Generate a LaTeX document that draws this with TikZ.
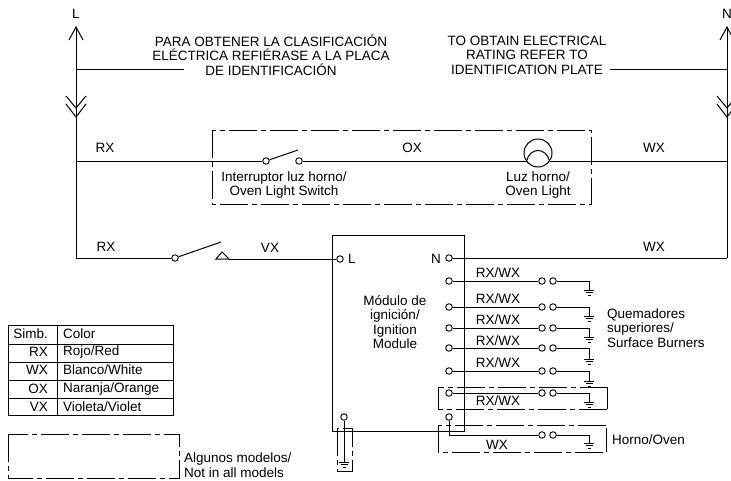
\documentclass[tikz,border=0pt]{standalone}
\usepackage{fontspec}
\setmainfont{Liberation Sans}
\usetikzlibrary{arrows}

\tikzstyle{wire} = [draw, line width=1pt]
\tikzstyle{optbox} = [draw, line width=0.9pt, dash pattern=on 28pt off 4pt on 5pt off 4pt]
\tikzstyle{term} = [circle, draw, line width=0.9pt, fill=white, inner sep=0pt, minimum size=6.5pt]
\tikzstyle{lbl} = [inner sep=0pt, font=\fontsize{13.5}{14.6}\selectfont, align=center]
\tikzstyle{lbll} = [inner sep=0pt, font=\fontsize{13.5}{14.8}\selectfont, align=left]

\begin{document}
\begin{tikzpicture}[x=1pt,y=-1pt]
\useasboundingbox (0,0) rectangle (731,480);

% supply lines
\coordinate (Ltop) at (76,27);
\coordinate (Lbot) at (76,258);
\coordinate (Ntop) at (727,27);
\coordinate (Nbot) at (727,258);
\node [lbl] (Ltxt) at (76,14) {L};
\node [lbl] (Ntxt) at (727,14) {N};
\draw [wire] (Ltop) -- (Lbot);
\draw [wire] (Ntop) -- (Nbot);
\draw [wire] (69,40) -- (Ltop) -- (83,40);
\draw [wire] (720,40) -- (Ntop) -- (734,40);
\draw [wire] (66,96) -- (76,108) -- (86,96);
\draw [wire] (66,104) -- (76,117) -- (86,104);
\draw [wire] (717,96) -- (727,108) -- (737,96);
\draw [wire] (717,104) -- (727,117) -- (737,104);

% rating notes
\node [lbl] (noteES) at (271,55) {PARA OBTENER LA CLASIFICACIÓN\\ELÉCTRICA REFIÉRASE A LA PLACA\\DE IDENTIFICACIÓN};
\node [lbl] (noteEN) at (527,55) {TO OBTAIN ELECTRICAL\\RATING REFER TO\\IDENTIFICATION PLATE};
\coordinate (Lnote) at (184,69);
\coordinate (Nnote) at (610,69);
\draw [wire] (76,69) -- (Lnote);
\draw [wire] (Nnote) -- (727,69);

% oven light
\draw [optbox] (212,130) rectangle (591,204);
\node [term] (sw1a) at (266,161) {};
\node [term] (sw1b) at (299,161) {};
\node [circle, draw, line width=1pt, inner sep=0pt, minimum size=28pt] (lamp) at (538,153) {};
\coordinate (lampL) at (526.5,161);
\coordinate (lampR) at (549.5,161);
\draw [wire] (76,161) -- (sw1a);
\draw [wire] (sw1a) -- (298,150);
\draw [wire] (sw1b) -- (lampL);
\draw [wire] (lampR) -- (727,161);
\draw [wire] (lampL) .. controls (530,147) and (546,147) .. (lampR);
\node [lbl] (rx1) at (105,148) {RX};
\node [lbl] (ox1) at (412,148) {OX};
\node [lbl] (wx1) at (654,148) {WX};
\node [lbl] (swtxt) at (284,185) {Interruptor luz horno/\\Oven Light Switch};
\node [lbl] (lamptxt) at (538,185) {Luz horno/\\Oven Light};

% limit switch and module
\node [term] (sw2a) at (175,258) {};
\coordinate (tri) at (229,259);
\draw [wire] (Lbot) -- (sw2a);
\draw [wire] (sw2a) -- (221,242);
\draw [wire] (216,259) -- (222,252) -- (tri) -- cycle;
\node [lbl] (rx2) at (106,247) {RX};
\node [lbl] (vx1) at (270,248) {VX};
\node [lbl] (wx2) at (654,247) {WX};
\draw [wire] (332,235) rectangle (464,431);
\node [term] (modL) at (340,259) {};
\node [term] (modN) at (449,258) {};
\node [lbl] (Ltxt2) at (352,259) {L};
\node [lbl] (Ntxt2) at (436,259) {N};
\draw [wire] (tri) -- (modL);
\draw [wire] (modN) -- (Nbot);
\node [lbl] (modtxt) at (395,322) {Módulo de\\ignición/\\Ignition\\Module};

% burner outputs
\foreach \name/\y/\gy in {a/281/290,b/307/316,c/328/337,d/348/359,e/371/381,f/393/402} {
  \node [term] (t\name) at (449,\y) {};
  \node [term] (u\name) at (542,\y) {};
  \node [term] (v\name) at (553,\y) {};
  \draw [wire] (t\name) -- (u\name);
  \draw [wire] (v\name) -- (589,\y) -- (589,\gy);
  \draw [wire] (584,\gy) -- (594,\gy);
  \draw [wire] (585.5,\gy+2.5) -- (592.5,\gy+2.5);
  \draw [wire] (587.5,\gy+5) -- (590.5,\gy+5);
}
\foreach \name/\y in {a/273,b/299,c/320,d/341,e/363,f/401} {
  \node [lbl] (rw\name) at (498,\y) {RX/WX};
}
\node [lbll, anchor=west] (burntxt) at (607,328) {Quemadores\\superiores/\\Surface Burners};

% oven output
\node [term] (tg) at (449,417) {};
\node [term] (ug) at (542,435) {};
\node [term] (vg) at (553,435) {};
\draw [wire] (tg) -- (449,435) -- (ug);
\draw [wire] (vg) -- (589,435) -- (589,443);
\draw [wire] (584,443) -- (594,443);
\draw [wire] (585.5,445.5) -- (592.5,445.5);
\draw [wire] (587.5,448) -- (590.5,448);
\node [lbl] (wx3) at (497,445) {WX};
\node [lbll, anchor=west] (oventxt) at (612,440) {Horno/Oven};
\draw [optbox] (438,409) -- (438,387) -- (607,387);
\draw [line width=0.9pt] (607,387) -- (607,409);
\draw [optbox] (607,409) -- (438,409);
\draw [optbox] (438,425) -- (438,452) -- (606,452);
\draw [line width=0.9pt] (606,452) -- (606,428);
\draw [optbox] (606,425) -- (438,425);

% chassis ground
\node [term] (tcg) at (344,417) {};
\draw [wire] (tcg) -- (344,462);
\draw [wire] (339,462) -- (349,462);
\draw [wire] (340.5,464.5) -- (347.5,464.5);
\draw [wire] (342.5,467) -- (345.5,467);
\draw [optbox] (337,428) rectangle (352,471);

% legend
\draw [line width=0.9pt] (8,325) rectangle (173,415);
\foreach \y in {344,362,380,398} { \draw [line width=0.9pt] (8,\y) -- (173,\y); }
\draw [line width=0.9pt] (57,325) -- (57,415);
\foreach \nm/\y/\s/\c in {a/334/Simb./Color,b/352/RX/{Rojo/Red},c/370/WX/{Blanco/White},d/389/OX/{Naranja/Orange},e/407/VX/{Violeta/Violet}} {
  \node [lbl, anchor=east] (sym\nm) at (48,\y) {\s};
  \node [lbl, anchor=west] (col\nm) at (63,\y) {\c};
}
\draw [optbox] (8,434) rectangle (179,478);
\node [lbll, anchor=west] (opttxt) at (184,465) {Algunos modelos/\\Not in all models};
\end{tikzpicture}
\end{document}
